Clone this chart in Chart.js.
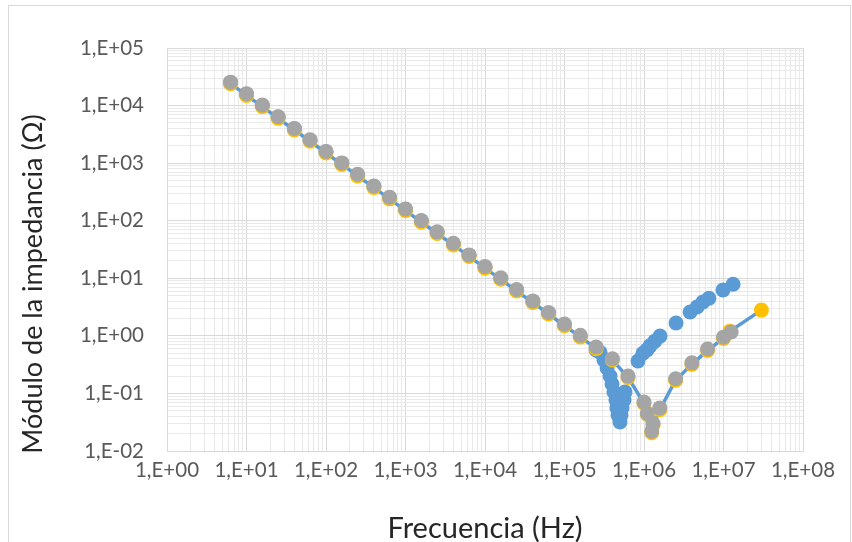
<!DOCTYPE html>
<html>
<head>
<meta charset="utf-8">
<title>Módulo de la impedancia</title>
<script src="https://cdn.jsdelivr.net/npm/chart.js@4.4.0/dist/chart.umd.min.js"></script>
<style>
  html, body { margin: 0; padding: 0; background: #fff; overflow: hidden; }
  #frame { position: absolute; left: 8px; top: 5px; width: 841px; height: 600px; border: 1px solid #d9d9d9; }
  #chart { position: absolute; left: 0; top: 0; }
</style>
</head>
<body>
<div id="frame"></div>
<canvas id="chart" width="852" height="542"></canvas>
<script>
// medida gris
const freqGris = [6.3, 10, 15.8, 25, 40, 63, 100, 158, 250, 400, 630, 1000, 1580, 2500, 4000, 6300,
  1e4, 1.58e4, 2.5e4, 4e4, 6.3e4, 1e5, 1.58e5, 2.5e5, 4e5, 6.3e5,
  1e6, 1.1e6, 1.25e6, 1.3e6, 1.58e6, 2.5e6, 4e6, 6.3e6, 1e7, 1.25e7];
const zGris = [25500, 16000, 10200, 6400, 4000, 2550, 1600, 1010, 640, 400, 255, 160, 101, 64, 40.5, 25.5,
  16, 10.2, 6.4, 4.05, 2.55, 1.6, 1.02, 0.64, 0.40, 0.20,
  0.071, 0.045, 0.022, 0.030, 0.056, 0.18, 0.34, 0.59, 0.95, 1.17];

// medida amarilla (llega hasta 3e7)
const freqAmarillo = [6.3, 10, 15.8, 25, 40, 63, 100, 158, 250, 400, 630, 1000, 1580, 2500, 4000, 6300,
  1e4, 1.58e4, 2.5e4, 4e4, 6.3e4, 1e5, 1.58e5, 2.5e5, 4e5, 6.3e5,
  1e6, 1.1e6, 1.25e6, 1.3e6, 1.58e6, 2.5e6, 4e6, 6.3e6, 1e7, 1.2e7, 3e7];
const zAmarillo = [24000, 15000, 9600, 6000, 3760, 2400, 1500, 950, 600, 376, 240, 150, 95, 60, 38, 24,
  15, 9.6, 6.0, 3.8, 2.4, 1.5, 0.96, 0.60, 0.38, 0.19,
  0.067, 0.043, 0.0208, 0.028, 0.052, 0.17, 0.32, 0.56, 0.90, 1.2, 2.8];

// medida azul
const freqAzul = [6.3, 10, 15.8, 25, 40, 63, 100, 158, 250, 400, 630, 1000, 1580, 2500, 4000, 6300,
  1e4, 1.58e4, 2.5e4, 4e4, 6.3e4, 1e5, 1.58e5, 2.5e5,
  2.8e5, 3.14e5, 3.43e5, 3.74e5, 3.96e5, 4.19e5, 4.44e5, 4.57e5, 4.71e5, 4.99e5,
  5.14e5, 5.29e5, 5.6e5, 5.77e5,
  8.4e5, 9.7e5, 1.09e6, 1.19e6, 1.37e6, 1.59e6, 2.53e6, 3.8e6, 4.65e6, 5.5e6, 6.56e6, 9.86e6, 1.32e7];
const zAzul = [25000, 15800, 10000, 6300, 3950, 2500, 1580, 1000, 630, 395, 250, 158, 99, 62, 39.5, 24.8,
  15.5, 9.8, 6.2, 3.9, 2.45, 1.55, 0.98, 0.57,
  0.52, 0.38, 0.277, 0.201, 0.146, 0.106, 0.077, 0.056, 0.042, 0.032,
  0.042, 0.056, 0.077, 0.106,
  0.366, 0.50, 0.57, 0.67, 0.81, 0.99, 1.67, 2.6, 3.17, 3.87, 4.5, 6.25, 7.9];

const tituloX = 'Frecuencia (Hz)';
const tituloY = 'Módulo de la impedancia (Ω)';

const FUENTE = 'Lato, "Open Sans", sans-serif';

function puntos(fs, zs) {
  return fs.map((f, i) => ({ x: f, y: zs[i] }));
}

function esDecada(v) {
  const e = Math.log10(v);
  return Math.abs(e - Math.round(e)) < 1e-6;
}

// 1,E+05 / 1,E-02
function etiquetaExp(v) {
  if (!esDecada(v)) return '';
  const e = Math.round(Math.log10(v));
  return '1,E' + (e < 0 ? '-' : '+') + String(Math.abs(e)).padStart(2, '0');
}

// todas las divisiones 1..9 de cada década
function ticksLog(axis) {
  const ticks = [];
  const lo = Math.round(Math.log10(axis.min));
  const hi = Math.round(Math.log10(axis.max));
  for (let e = lo; e <= hi; e++) {
    for (let k = 1; k < 10; k++) {
      if (e === hi && k > 1) break;
      ticks.push({ value: k * Math.pow(10, e), major: k === 1 });
    }
  }
  axis.ticks = ticks;
}

function colorRejilla(ctx) {
  if (!ctx.tick) return '#d9d9d9';
  return esDecada(ctx.tick.value) ? '#d9d9d9' : '#e9e9e9';
}

// título vertical dibujado a mano para poder situarlo
const tituloVertical = {
  id: 'tituloVertical',
  afterDraw(chart) {
    const ctx = chart.ctx;
    ctx.save();
    ctx.translate(33, 284);
    ctx.rotate(-Math.PI / 2);
    ctx.font = '27px ' + FUENTE;
    ctx.fillStyle = '#262626';
    ctx.textAlign = 'center';
    ctx.textBaseline = 'middle';
    ctx.fillText(tituloY, 0, 0);
    ctx.restore();
  }
};

new Chart(document.getElementById('chart'), {
  type: 'scatter',
  data: {
    datasets: [
      {
        label: 'gris',
        data: puntos(freqGris, zGris),
        pointRadius: 7.5,
        pointBorderWidth: 0,
        pointBackgroundColor: '#A5A5A5',
        pointBorderColor: '#A5A5A5',
        showLine: false
      },
      {
        label: 'amarillo',
        data: puntos(freqAmarillo, zAmarillo),
        pointRadius: 7.5,
        pointBorderWidth: 0,
        pointBackgroundColor: '#FFC000',
        pointBorderColor: '#FFC000',
        showLine: true,
        borderColor: '#5B9BD5',
        borderWidth: 3.5
      },
      {
        label: 'azul',
        data: puntos(freqAzul, zAzul),
        pointRadius: 7.5,
        pointBorderWidth: 0,
        pointBackgroundColor: '#5B9BD5',
        pointBorderColor: '#5B9BD5',
        showLine: false
      }
    ]
  },
  options: {
    responsive: false,
    animation: false,
    events: [],
    layout: { padding: { left: 8, top: 48, right: 49, bottom: 0 } },
    plugins: {
      legend: { display: false },
      tooltip: { enabled: false }
    },
    scales: {
      x: {
        type: 'logarithmic',
        min: 1,
        max: 1e8,
        afterBuildTicks: ticksLog,
        afterFit: (s) => { s.height = 91; },
        grid: { color: colorRejilla, drawTicks: false },
        border: { color: '#d9d9d9' },
        ticks: {
          autoSkip: false,
          maxRotation: 0,
          padding: 7,
          color: '#595959',
          font: { family: FUENTE, size: 20.5 },
          callback: etiquetaExp
        },
        title: {
          display: true,
          text: tituloX,
          color: '#262626',
          padding: { top: 0, bottom: -1 },
          font: { family: FUENTE, size: 29, lineHeight: 1 }
        }
      },
      y: {
        type: 'logarithmic',
        min: 0.01,
        max: 1e5,
        afterBuildTicks: ticksLog,
        afterFit: (s) => { s.width = 159; },
        grid: { color: colorRejilla, drawTicks: false },
        border: { color: '#d9d9d9' },
        ticks: {
          autoSkip: false,
          padding: 23,
          color: '#595959',
          font: { family: FUENTE, size: 20.5 },
          callback: etiquetaExp
        }
      }
    }
  },
  plugins: [tituloVertical]
});
</script>
</body>
</html>
